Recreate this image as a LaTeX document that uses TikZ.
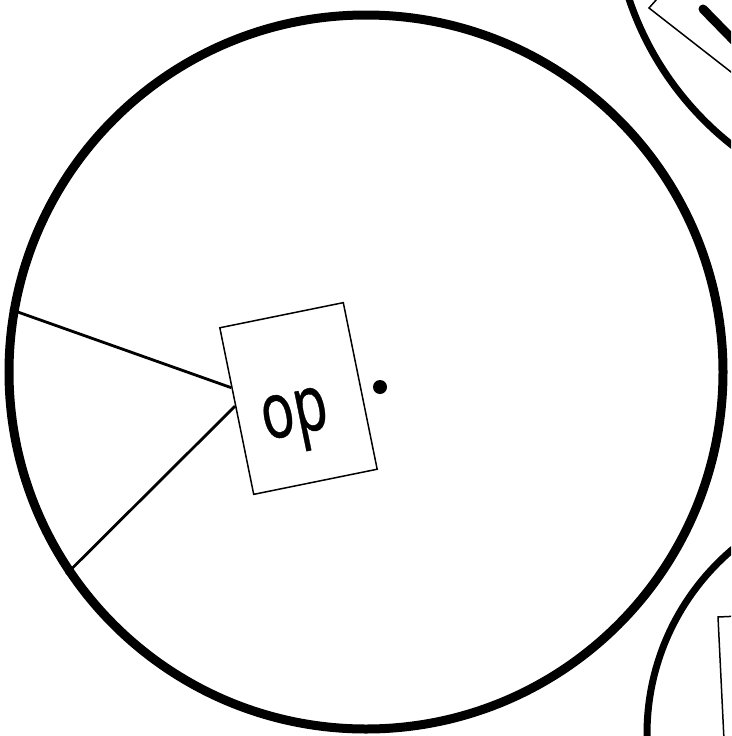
\documentclass[tikz,border=0pt]{standalone}
\usepackage{graphicx}
\usepackage{fontspec}
\setmainfont{Noto Sans}
\newfontfamily\opfont[FakeBold=0.6]{Noto Sans}
\usetikzlibrary{calc}
\begin{document}
\begin{tikzpicture}[x=1pt,y=-1pt,
  ring/.style={circle,draw,line width=9pt,inner sep=0pt},
  opbox/.style={draw,line width=1.5pt,rotate=11.5,minimum width=126pt,minimum height=170pt,
    text height=79pt,text depth=10pt,font=\opfont\fontsize{78}{78}\selectfont},
  arm/.style={line width=2.8pt}]
\useasboundingbox (0,0) rectangle (731,736);
\clip (0,0) rectangle (731,736);
% cells
\node[ring,minimum size=714pt] (cell) at (366,372) {};
\node[ring,line width=7pt,minimum size=624pt] (cellne) at (925,-100) {};
\node[ring,line width=7pt,minimum size=484pt] (cellse) at (889,734) {};
% operator box and point
\node[opbox] (op) at (298.5,398.5) {\scalebox{0.7}[1]{op}\kern14pt};
\node[circle,fill,inner sep=0pt,minimum size=14pt] (dot) at (380,387) {};
\draw[arm] (cell.170) -- ($(op.north west)!0.36!(op.south west)$);
\draw[arm] (cell.214) -- ($(op.north west)!0.47!(op.south west)$);
% pieces of the neighbours
\coordinate (neA) at (657,-1);
\coordinate (neB) at (649,8);
\coordinate (neC) at (740,79);
\draw[line width=1.5pt] (neA) -- (neB) -- (neC);
\coordinate (barA) at (703,9);
\coordinate (barB) at (745,52);
\draw[line width=9pt,line cap=round] (barA) -- (barB);
\coordinate (seA) at (740,616);
\coordinate (seB) at (718,617);
\coordinate (seC) at (724,740);
\draw[line width=1.5pt] (seA) -- (seB) -- (seC);
\end{tikzpicture}
\end{document}
